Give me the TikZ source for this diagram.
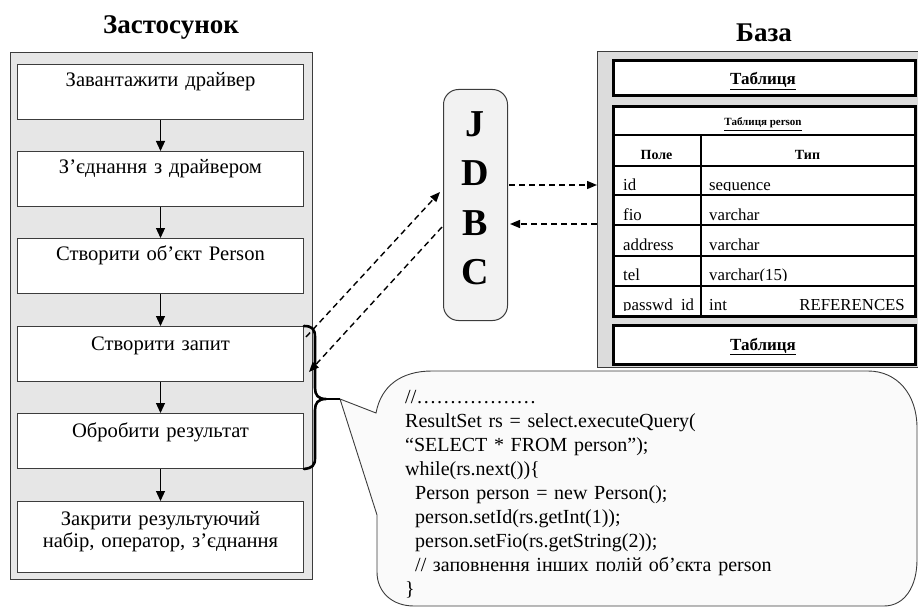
\documentclass[tikz,border=0pt]{standalone}
\usepackage{fontspec}
\setmainfont{Liberation Serif}
\usetikzlibrary{arrows.meta,calc}

\definecolor{appgray}{HTML}{E6E6E6}
\definecolor{dbgray}{HTML}{DCDCDC}
\definecolor{framegray}{HTML}{3C3C3C}
\definecolor{jdbcfill}{HTML}{F2F2F2}
\definecolor{calloutfill}{HTML}{FAFAFA}

\begin{document}
\begin{tikzpicture}[x=1pt,y=-1pt,
  panel/.style={draw=framegray, line width=1.2pt, inner sep=0pt, anchor=north west},
  stepbox/.style={draw=framegray, line width=1pt, fill=white, minimum width=286pt,
    minimum height=55pt, inner sep=0pt, anchor=north west},
  steplabel/.style={font=\fontsize{20.6}{22}\selectfont, anchor=base, inner sep=0pt,
    text width=280pt, align=center},
  flow/.style={-{Triangle[length=10pt,width=9pt]}, line width=1.2pt, black},
  link/.style={-{Triangle[length=10pt,width=8pt]}, line width=1.4pt, dash pattern=on 6pt off 4pt},
  tbl/.style={draw=black, line width=3pt, fill=white, minimum width=302pt, inner sep=0pt,
    anchor=north west},
  grid/.style={draw=black, line width=1.5pt},
  cell/.style={font=\fontsize{16.8}{18}\selectfont, inner sep=0pt},
  heading/.style={font=\bfseries\fontsize{27}{30}\selectfont, anchor=base, inner sep=0pt}
]
\useasboundingbox (0,0) rectangle (918,607);

% ---------- application side ----------
\node[heading] (apptitle) at (171,34) {Застосунок};
\node[panel, fill=appgray, minimum width=302pt, minimum height=527pt] (app) at (10,52) {};

\node[stepbox] (b1) at (17,64) {};
\node[stepbox] (b2) at (17,151) {};
\node[stepbox] (b3) at (17,238) {};
\node[stepbox] (b4) at (17,326) {};
\node[stepbox] (b5) at (17,413) {};
\node[stepbox, minimum height=71pt] (b6) at (17,501) {};

\node[steplabel] (l1) at ($(b1.north)+(0,23)$) {Завантажити драйвер};
\node[steplabel] (l2) at ($(b2.north)+(0,22)$) {З’єднання з драйвером};
\node[steplabel] (l3) at ($(b3.north)+(0,22)$) {Створити об’єкт Person};
\node[steplabel] (l4) at ($(b4.north)+(0,24)$) {Створити запит};
\node[steplabel] (l5) at ($(b5.north)+(0,24)$) {Обробити результат};
\node[steplabel] (l6) at ($(b6.north)+(0,24)$) {Закрити результуючий\\набір, оператор, з’єднання};

\draw[flow] (b1) -- (b2);
\draw[flow] (b2) -- (b3);
\draw[flow] (b3) -- (b4);
\draw[flow] (b4) -- (b5);
\draw[flow] (b5) -- (b6);

% ---------- JDBC ----------
\node[draw=framegray, fill=jdbcfill, line width=1pt, rounded corners=15pt,
  minimum width=64pt, minimum height=231pt, inner sep=0pt, anchor=north west] (jdbc) at (443,89) {};
\node[font=\bfseries\fontsize{38}{49}\selectfont, text width=60pt, align=center,
  inner sep=0pt, anchor=base] (jdbcletters) at (475,137) {J\\D\\B\\C};

% ---------- database side ----------
\node[heading] (dbtitle) at (764,42) {База};
\node[panel, fill=dbgray, minimum width=330pt, minimum height=316pt] (db) at (597,51) {};

\node[tbl, minimum height=35pt] (tabA) at (612,59) {};
\node[font=\bfseries\fontsize{17}{20}\selectfont, anchor=base, inner sep=0pt] (tabAname) at (763,85) {\underline{Таблиця}};

\node[tbl, minimum height=210pt] (tabP) at (612,105) {};
\node[tbl, minimum height=39pt] (tabB) at (612,324) {};
\node[font=\bfseries\fontsize{17}{20}\selectfont, anchor=base, inner sep=0pt] (tabBname) at (763,350) {\underline{Таблиця}};

% grid of the person table
\foreach \yy in {135,166,195,225,256,286}
  \draw[grid] (612,\yy) -- (914,\yy);
\draw[grid] (701,135) -- (701,315);

\node[font=\bfseries\fontsize{11}{13}\selectfont, anchor=base, inner sep=0pt] (tabPname) at (763,126) {\underline{Таблиця person}};
\node[font=\bfseries\fontsize{14}{16}\selectfont, anchor=base, inner sep=0pt] (colfield) at (656.5,159) {Поле};
\node[font=\bfseries\fontsize{14}{16}\selectfont, anchor=base, inner sep=0pt] (coltype) at (807.5,159) {Тип};

% field rows; each row is cut just below its baseline
\foreach \top/\base/\fname/\ftype in {
    166/190/id/sequence,
    195/220/fio/varchar,
    225/250/address/varchar,
    256/280/tel/varchar(15),
    286/310/passwd\_id/int}{
  \begin{scope}
    \clip (614,\top) rectangle (912,\base+0.6);
    \node[cell, anchor=base west] at (623,\base) {\fname};
    \node[cell, anchor=base west] at (709,\base) {\ftype};
  \end{scope}
}
\node[cell, anchor=base east] (refs) at (905,310) {REFERENCES};

% ---------- JDBC links ----------
\draw[link] ([shift={(2,11)}]b4.north east) -- ([shift={(-3,103)}]jdbc.north west);
\draw[link] ([shift={(-1,138)}]jdbc.north west) -- ([shift={(5,46)}]b4.north east);
\draw[link] ([shift={(1,96)}]jdbc.north east) -- ([shift={(0,134)}]db.north west);
\draw[link] ([shift={(0,173)}]db.north west) -- ([shift={(2,135)}]jdbc.north east);

% ---------- callout with the code ----------
\coordinate (calltip) at (340,399);
\draw[draw=framegray, line width=0.9pt, fill=calloutfill]
  (376,413) .. controls (381,386) and (401,371) .. (432,371)
  -- (868,371) .. controls (897,371) and (917,394) .. (917,428)
  -- (917,560) .. controls (917,586) and (905,606) .. (884,606)
  -- (414,606) .. controls (392,606) and (377,592) .. (377,572)
  -- (377,515) -- (calltip) -- cycle;

\node[font=\fontsize{20}{24}\selectfont, text width=500pt, align=left, inner sep=0pt,
  anchor=base west] (code) at (405,403) {%
//………………\\
ResultSet rs = select.executeQuery(\\
“SELECT * FROM person”);\\
while(rs.next())\{\\
\hspace*{10pt}Person person = new Person();\\
\hspace*{10pt}person.setId(rs.getInt(1));\\
\hspace*{10pt}person.setFio(rs.getString(2));\\
\hspace*{10pt}// заповнення інших полій об’єкта person\\
\}};

% ---------- brace over the query steps ----------
\draw[line width=2.6pt, line cap=round, line join=round]
  (b4.north east) .. controls (312,326) and (315,329) .. (315,337)
  -- (315,388) .. controls (315,395) and (318,399) .. (326,399)
  .. controls (318,399) and (315,403) .. (315,410)
  -- (315,458) .. controls (315,466) and (312,468) .. (b5.south east);
\draw[line width=1.6pt] (324,399) -- (calltip);
\end{tikzpicture}
\end{document}
